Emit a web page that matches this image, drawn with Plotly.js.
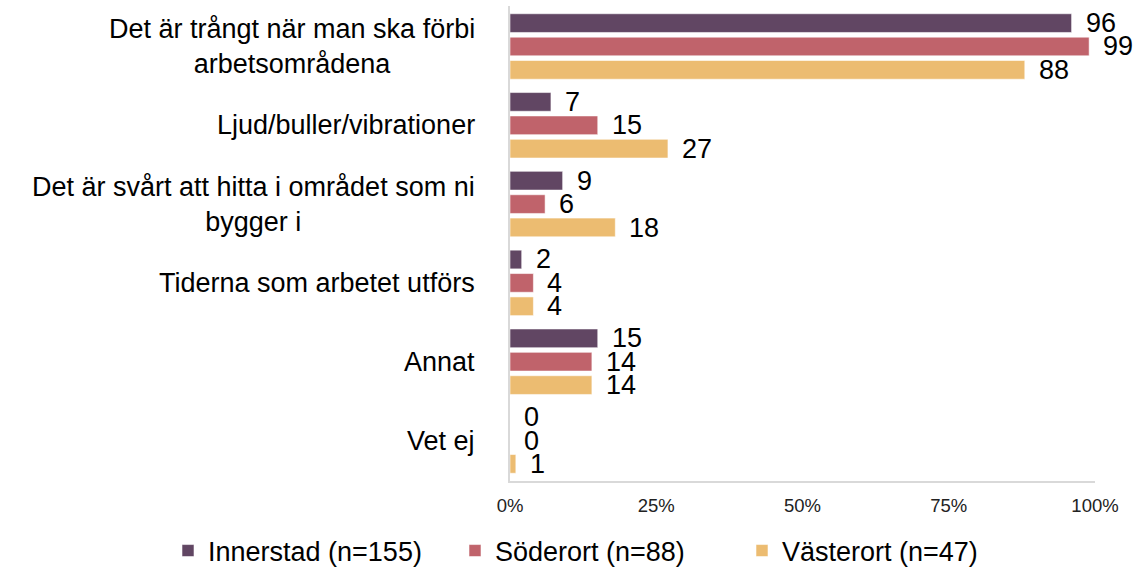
<!DOCTYPE html>
<html>
<head>
<meta charset="utf-8">
<script src="https://cdn.plot.ly/plotly-3.0.1.min.js"></script>
<style>
  html, body { margin: 0; padding: 0; background: #ffffff; }
  #chart { width: 1136px; height: 571px; }
</style>
</head>
<body>
<div id="chart"></div>
<script>
// ---- Data ----
var categories = [
  "Det är trångt när man ska förbi<br>arbetsområdena",
  "Ljud/buller/vibrationer",
  "Det är svårt att hitta i området som ni<br>bygger i",
  "Tiderna som arbetet utförs",
  "Annat",
  "Vet ej"
];
var seriesNames = ["Innerstad (n=155)", "Söderort (n=88)", "Västerort (n=47)"];
var innerstad = [96, 7, 9, 2, 15, 0];
var soderort  = [99, 15, 6, 4, 14, 0];
var vasterort = [88, 27, 18, 4, 14, 1];
var tickValues = [0, 25, 50, 75, 100];
var tickLabels = ["0%", "25%", "50%", "75%", "100%"];

// ---- Styling ----
var colors = ["#614663", "#C0636B", "#ECBC71"];
var FONT = "Liberation Sans, Arial, Helvetica, sans-serif";
var W = 1136, H = 571;
var margin = {l: 510, r: 41, t: 6, b: 90, autoexpand: false};
var bargap = 0.11, bargroupgap = 0.2;

var seriesValues = [innerstad, soderort, vasterort];

var traces = seriesValues.map(function (vals, i) {
  return {
    type: "bar",
    orientation: "h",
    name: seriesNames[i],
    x: vals,
    y: categories,
    marker: {color: colors[i], line: {color: "rgba(255,255,255,0.55)", width: 1}},
    hoverinfo: "x+y+name",
    cliponaxis: false
  };
});

// pixel geometry for label offsets (derived from layout settings)
var plotH = H - margin.t - margin.b;
var plotW = W - margin.l - margin.r;
var pitch = plotH / categories.length;
var slot = pitch * (1 - bargap) / seriesValues.length;

var annotations = [];
// category labels (centered multi-line, right anchored)
categories.forEach(function (c) {
  annotations.push({
    xref: "paper", yref: "y", x: 0, y: c,
    xanchor: "right", yanchor: "middle", xshift: -33,
    text: c, showarrow: false, align: "center",
    font: {family: FONT, size: 27, color: "#000000"}
  });
});
// data labels
seriesValues.forEach(function (vals, i) {
  var yshift = -(i - (seriesValues.length - 1) / 2) * slot;
  vals.forEach(function (v, j) {
    annotations.push({
      xref: "x", yref: "y", x: v, y: categories[j],
      xanchor: "left", yanchor: "middle", xshift: 12, yshift: yshift,
      text: String(v), showarrow: false,
      font: {family: FONT, size: 27, color: "#000000"}
    });
  });
});

var layout = {
  width: W, height: H,
  margin: margin,
  paper_bgcolor: "#ffffff", plot_bgcolor: "#ffffff",
  barmode: "group",
  bargap: bargap, bargroupgap: bargroupgap,
  font: {family: FONT, color: "#000000"},
  showlegend: true,
  legend: {
    orientation: "h",
    xref: "paper", yref: "paper",
    x: (168 - margin.l) / plotW, xanchor: "left",
    y: -70 / plotH, yanchor: "middle",
    font: {family: FONT, size: 27, color: "#000000"},
    itemwidth: 30, traceorder: "normal",
    entrywidthmode: "pixels", entrywidth: 242
  },
  xaxis: {
    range: [0, 100],
    tickmode: "array", tickvals: tickValues, ticktext: tickLabels,
    showgrid: false, zeroline: false,
    showline: true, linecolor: "#d9d9d9", linewidth: 2,
    ticks: "", ticklabelstandoff: 7,
    tickfont: {family: FONT, size: 18.5, color: "#222222"},
    fixedrange: true
  },
  yaxis: {
    type: "category",
    autorange: "reversed",
    showticklabels: false,
    showgrid: false, zeroline: false,
    showline: true, linecolor: "#d9d9d9", linewidth: 2,
    ticks: "",
    fixedrange: true
  },
  annotations: annotations
};

Plotly.newPlot("chart", traces, layout, {displayModeBar: false, staticPlot: true});
</script>
</body>
</html>
